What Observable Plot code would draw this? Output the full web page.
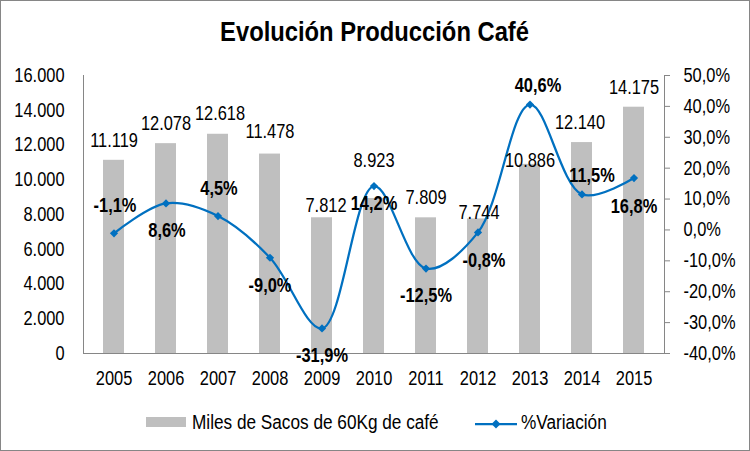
<!DOCTYPE html>
<html>
<head>
<meta charset="utf-8">
<script src="https://cdn.jsdelivr.net/npm/d3@7"></script>
<script src="https://cdn.jsdelivr.net/npm/@observablehq/plot@0.6"></script>
<style>
  html, body { margin: 0; padding: 0; background: #fff; }
  #wrap { position: relative; width: 750px; height: 451px; overflow: hidden; background: #fff;
          font-family: "Liberation Sans", Arial, sans-serif; color: #000; }
  #border { position: absolute; left: 0; top: 0; width: 748px; height: 449px; border: 1px solid #868686; pointer-events: none; }
  #titlebox { position: absolute; left: 0; top: 19px; width: 750px; text-align: center; }
  #title { display: inline-block; font-size: 27px; line-height: 27px; font-weight: bold; transform: scaleX(0.88); transform-origin: center; white-space: nowrap; }
  #chart { position: absolute; left: 0; top: 0; }
  .leg { position: absolute; font-size: 20px; line-height: 20px; top: 412px; white-space: nowrap; transform: scaleX(0.86); transform-origin: left center; }
</style>
</head>
<body>
<div id="wrap">
  <div id="titlebox"><span id="title">Evolución Producción Café</span></div>
  <div id="chart"></div>
  <div style="position:absolute; left:146px; top:417px; width:40px; height:10px; background:#BFBFBF;"></div>
  <div class="leg" id="leg1" style="left:192px;"></div>
  <svg style="position:absolute; left:474px; top:418px;" width="44" height="12">
    <line x1="1" y1="6" x2="43" y2="6" stroke="#0070C0" stroke-width="2.25"></line>
    <path d="M22,1.5 L26.5,6 L22,10.5 L17.5,6 Z" fill="#0070C0"></path>
  </svg>
  <div class="leg" id="leg2" style="left:521px;"></div>
  <div id="border"></div>
</div>
<script>
// ---- data ----
const years = ["2005","2006","2007","2008","2009","2010","2011","2012","2013","2014","2015"];
const sacos = [11119, 12078, 12618, 11478, 7812, 8923, 7809, 7744, 10886, 12140, 14175];
const variacion = [-1.1, 8.6, 4.5, -9.0, -31.9, 14.2, -12.5, -0.8, 40.6, 11.5, 16.8];
const leftTicks = [0, 2000, 4000, 6000, 8000, 10000, 12000, 14000, 16000];
const rightTicks = [-40, -30, -20, -10, 0, 10, 20, 30, 40, 50];
const seriesNames = ["Miles de Sacos de 60Kg de café", "%Variación"];

// label offsets (px) used to reproduce manual label placement
const barLabelDx = [0, 0, 2, 0, 4, 0, 0, 1, 0, -2, 0];
const barLabelDy = [-20, -20, -21, -22, -12, -38, -20, -6, -4, -20, -20];
const pctLabelDx = [1, 1, 1, 0, 0, 0, 0, 6, 8, 10, 0];
const pctLabelDy = [-28, 27, -27, 28, 27, 18, 27, 28, -19, -19, 29];

document.getElementById("leg1").textContent = seriesNames[0];
document.getElementById("leg2").textContent = seriesNames[1];

const locale = d3.formatLocale({decimal: ",", thousands: ".", grouping: [3], currency: ["", "€"], minus: "-"});
const fmtInt = locale.format(",.0f");
const fmtPct1 = locale.format(".1f");
const fmtPct = v => fmtPct1(v) + "%";

// map right axis (%) onto left axis domain
const yMax = 16000, pMin = -40, pMax = 50;
const toY = p => (p - pMin) / (pMax - pMin) * yMax;
const fromY = y => y / yMax * (pMax - pMin) + pMin;

const rows = years.map((yr, i) => ({year: yr, sacos: sacos[i], pct: variacion[i], py: toY(variacion[i])}));

const axisColor = "#868686";

const marks = [
  Plot.barY(rows, {x: "year", y: "sacos", fill: "#BFBFBF"}),
  Plot.frame({anchor: "left", stroke: axisColor}),
  Plot.frame({anchor: "right", stroke: axisColor}),
  Plot.frame({anchor: "bottom", stroke: axisColor}),
  Plot.axisY(leftTicks, {anchor: "left", tickSize: 0, tickPadding: 19, tickFormat: fmtInt, label: null}),
  Plot.axisY(rightTicks.map(toY), {anchor: "right", tickSize: 5, tickPadding: 14, stroke: axisColor, label: null,
    tickFormat: d => fmtPct(Math.round(fromY(d) * 10) / 10)}),
  Plot.axisX({anchor: "bottom", tickSize: 0, tickPadding: 17, label: null}),
  Plot.line(rows, {x: "year", y: "py", stroke: "#0070C0", strokeWidth: 2.25, curve: "catmull-rom"}),
  Plot.dot(rows, {x: "year", y: "py", symbol: "diamond2", r: 3.7, fill: "#0070C0", stroke: "none"})
];
rows.forEach((d, i) => {
  marks.push(Plot.text([d], {x: "year", y: "sacos", text: r => fmtInt(r.sacos),
    dx: barLabelDx[i], dy: barLabelDy[i], fill: "#000", fontSize: 20}));
  marks.push(Plot.text([d], {x: "year", y: "py", text: r => fmtPct(r.pct),
    dx: pctLabelDx[i], dy: pctLabelDy[i], fill: "#000", fontSize: 20, fontWeight: "bold"}));
});

const chart = Plot.plot({
  width: 750, height: 400,
  marginTop: 75, marginBottom: 47, marginLeft: 83, marginRight: 86,
  x: {type: "band", domain: years, paddingInner: 0.6, paddingOuter: 0.3, axis: null},
  y: {domain: [0, yMax], axis: null},
  style: {fontFamily: '"Liberation Sans", Arial, sans-serif', fontSize: "20px", color: "#000", background: "transparent", overflow: "visible"},
  marks
});
document.getElementById("chart").appendChild(chart);

// emulate Arial Narrow: condense every text to 82% of its natural width
chart.querySelectorAll("text").forEach(el => {
  const L = el.getComputedTextLength();
  if (L > 0) {
    el.setAttribute("textLength", (L * 0.82).toFixed(2));
    el.setAttribute("lengthAdjust", "spacingAndGlyphs");
  }
});
</script>
</body>
</html>
